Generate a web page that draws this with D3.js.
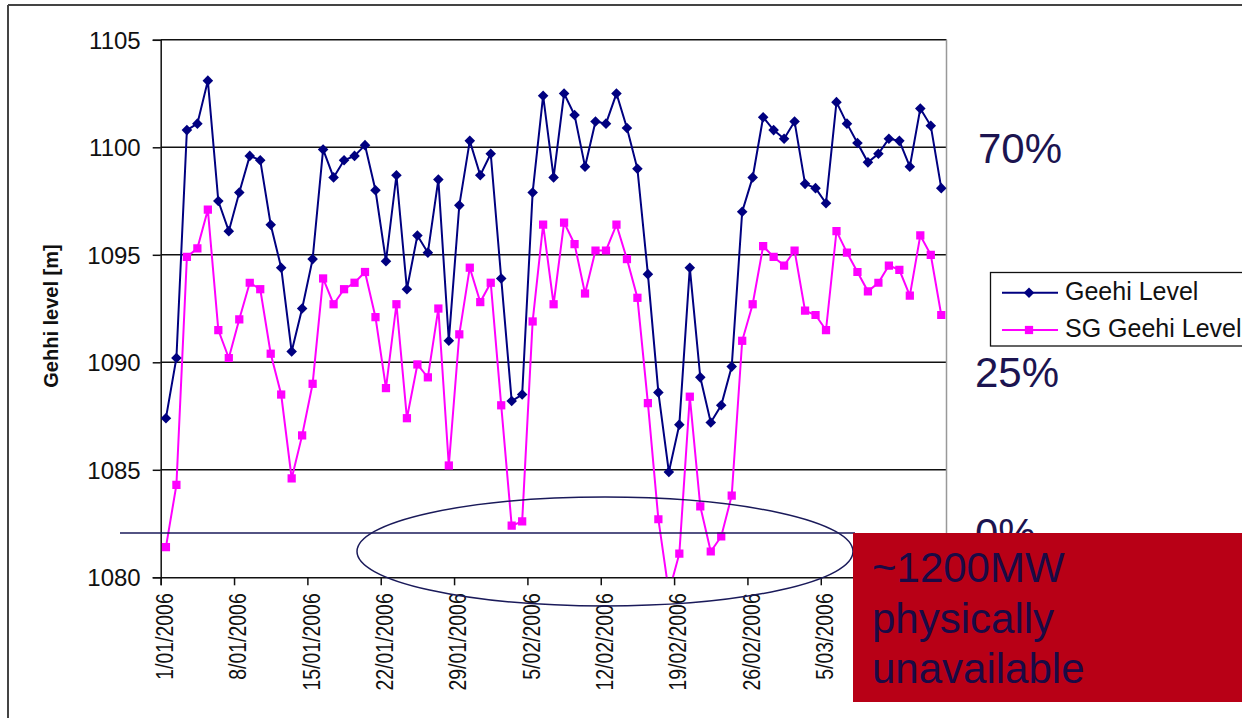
<!DOCTYPE html>
<html>
<head>
<meta charset="utf-8">
<script src="https://cdn.jsdelivr.net/npm/d3@7"></script>
<style>
  body { margin: 0; background: #fff; }
  svg { display: block; font-family: "Liberation Sans", Arial, sans-serif; }
</style>
</head>
<body>
<svg id="chart" width="1242" height="718"></svg>
<script>
// daily lake levels, 1 Jan - 16 Mar 2006
const startDate = "2006-01-01";
const geehiLevel = [
  1087.4, 1090.2, 1100.8, 1101.1, 1103.1, 1097.5, 1096.1, 1097.9, 1099.6, 1099.4,
  1096.4, 1094.4, 1090.5, 1092.5, 1094.8, 1099.9, 1098.6, 1099.4, 1099.6, 1100.1,
  1098.0, 1094.7, 1098.7, 1093.4, 1095.9, 1095.1, 1098.5, 1091.0, 1097.3, 1100.3,
  1098.7, 1099.7, 1093.9, 1088.2, 1088.5, 1097.9, 1102.4, 1098.6, 1102.5, 1101.5,
  1099.1, 1101.2, 1101.1, 1102.5, 1100.9, 1099.0, 1094.1, 1088.6, 1084.9, 1087.1,
  1094.4, 1089.3, 1087.2, 1088.0, 1089.8, 1097.0, 1098.6, 1101.4, 1100.8, 1100.4,
  1101.2, 1098.3, 1098.1, 1097.4, 1102.1, 1101.1, 1100.2, 1099.3, 1099.7, 1100.4,
  1100.3, 1099.1, 1101.8, 1101.0, 1098.1
];
const sgGeehiLevel = [
  1081.4, 1084.3, 1094.9, 1095.3, 1097.1, 1091.5, 1090.2, 1092.0, 1093.7, 1093.4,
  1090.4, 1088.5, 1084.6, 1086.6, 1089.0, 1093.9, 1092.7, 1093.4, 1093.7, 1094.2,
  1092.1, 1088.8, 1092.7, 1087.4, 1089.9, 1089.3, 1092.5, 1085.2, 1091.3, 1094.4,
  1092.8, 1093.7, 1088.0, 1082.4, 1082.6, 1091.9, 1096.4, 1092.7, 1096.5, 1095.5,
  1093.2, 1095.2, 1095.2, 1096.4, 1094.8, 1093.0, 1088.1, 1082.7, 1079.3, 1081.1,
  1088.4, 1083.3, 1081.2, 1081.9, 1083.8, 1091.0, 1092.7, 1095.4, 1094.9, 1094.5,
  1095.2, 1092.4, 1092.2, 1091.5, 1096.1, 1095.1, 1094.2, 1093.3, 1093.7, 1094.5,
  1094.3, 1093.1, 1095.9, 1095.0, 1092.2
];
const seriesNames = ["Geehi Level", "SG Geehi Level"];
const xTickLabels = ["1/01/2006", "8/01/2006", "15/01/2006", "22/01/2006", "29/01/2006",
  "5/02/2006", "12/02/2006", "19/02/2006", "26/02/2006", "5/03/2006", "12/03/2006"];
const yTicks = [1080, 1085, 1090, 1095, 1100, 1105];
const percentLabels = ["70%", "25%", "0%"];
const noteLines = ["~1200MW", "physically", "unavailable"];

const navy = "#000080", pink = "#ff00ff", textNavy = "#1c1450";

const svg = d3.select("#chart");
const parseDay = d3.timeParse("%Y-%m-%d");
const parseLabel = d3.timeParse("%d/%m/%Y");
const d0 = parseDay(startDate);
const dayOf = i => d3.timeHour.offset(d3.timeDay.offset(d0, i), 12); // centre of category
const dEnd = d3.timeDay.offset(d0, geehiLevel.length);

const x = d3.scaleTime().domain([d0, dEnd]).range([160.7, 946.5]);
const y = d3.scaleLinear().domain([1080, 1105]).range([577.3, 39.8]);

// page frame
svg.append("line").attr("x1", 8).attr("x2", 1242).attr("y1", 5).attr("y2", 5)
  .attr("stroke", "#444").attr("stroke-width", 2);
svg.append("line").attr("x1", 8).attr("x2", 8).attr("y1", 5).attr("y2", 718)
  .attr("stroke", "#444").attr("stroke-width", 2);

// gridlines
svg.append("g").selectAll("line")
  .data(yTicks.filter(v => v > 1080))
  .join("line")
  .attr("x1", x.range()[0]).attr("x2", x.range()[1])
  .attr("y1", d => y(d)).attr("y2", d => y(d))
  .attr("stroke", "#111").attr("stroke-width", 1.4);

// right plot border
svg.append("line").attr("x1", x.range()[1]).attr("x2", x.range()[1])
  .attr("y1", y(1105)).attr("y2", y(1080))
  .attr("stroke", "#999").attr("stroke-width", 1.5);

// y axis
const yAxis = svg.append("g")
  .attr("transform", `translate(${x.range()[0]},0)`)
  .call(d3.axisLeft(y).tickValues(yTicks).tickSize(8).tickPadding(12).tickFormat(d3.format("d")));
yAxis.select(".domain").attr("stroke", "#111").attr("stroke-width", 1.5);
yAxis.selectAll(".tick line").attr("stroke", "#111").attr("stroke-width", 1.5);
yAxis.selectAll("text").attr("font-size", 24).attr("fill", "#111").attr("dy", "0.36em");

// x axis
const xAxis = svg.append("g")
  .attr("transform", `translate(0,${y(1080)})`)
  .call(d3.axisBottom(x).tickValues(xTickLabels.map(parseLabel)).tickSize(8)
    .tickFormat((d, i) => xTickLabels[i]));
xAxis.select(".domain").attr("stroke", "#111").attr("stroke-width", 1.5);
xAxis.selectAll(".tick line").attr("stroke", "#111").attr("stroke-width", 1.5);
xAxis.selectAll("text")
  .attr("font-size", 24).attr("fill", "#111")
  .attr("x", 0).attr("y", 0).attr("dy", "0.36em")
  .attr("text-anchor", "end")
  .attr("transform", "translate(3,16) rotate(-90) scale(0.81,1)");

// axis title
svg.append("text")
  .attr("transform", "translate(58,316) rotate(-90)")
  .attr("text-anchor", "middle")
  .attr("font-size", 20).attr("font-weight", "bold").attr("fill", "#111")
  .text("Gehhi level [m]");

// series
svg.append("clipPath").attr("id", "plotClip")
  .append("rect")
  .attr("x", x.range()[0]).attr("y", y(1105))
  .attr("width", x.range()[1] - x.range()[0]).attr("height", y(1080) - y(1105));

const series = [
  { name: seriesNames[0], values: geehiLevel, color: navy, symbol: d3.symbolSquare, size: 56, rotate: 45 },
  { name: seriesNames[1], values: sgGeehiLevel, color: pink, symbol: d3.symbolSquare, size: 68, rotate: 0 }
];

const line = d3.line().x((d, i) => x(dayOf(i))).y(d => y(d));
const plot = svg.append("g").attr("clip-path", "url(#plotClip)");

series.slice().reverse().forEach(s => {
  plot.append("path")
    .datum(s.values)
    .attr("fill", "none").attr("stroke", s.color).attr("stroke-width", 2)
    .attr("d", line);
  plot.append("g").selectAll("path")
    .data(s.values)
    .join("path")
    .attr("d", d3.symbol(s.symbol, s.size))
    .attr("transform", (d, i) => `translate(${x(dayOf(i))},${y(d)}) rotate(${s.rotate})`)
    .attr("fill", s.color);
});

// annotations: 0% line, ellipse, storage percentages
svg.append("line").attr("x1", 120).attr("x2", 855).attr("y1", 533).attr("y2", 533)
  .attr("stroke", "#1a1a5a").attr("stroke-width", 1.5);
svg.append("ellipse").attr("cx", 605).attr("cy", 551.5).attr("rx", 248).attr("ry", 54.5)
  .attr("fill", "none").attr("stroke", "#1a1a5a").attr("stroke-width", 1.5);

const pctY = [163, 387, 548];
const pctX = [978, 975, 975];
svg.append("g").selectAll("text")
  .data(percentLabels)
  .join("text")
  .attr("x", (d, i) => pctX[i]).attr("y", (d, i) => pctY[i])
  .attr("font-size", 42).attr("fill", textNavy)
  .text(d => d);

// legend
const legend = svg.append("g");
legend.append("rect").attr("x", 990.5).attr("y", 272.5).attr("width", 300).attr("height", 73.5)
  .attr("fill", "#fff").attr("stroke", "#111").attr("stroke-width", 1.3);
series.forEach((s, i) => {
  const ly = 292.7 + i * 37.3;
  legend.append("line").attr("x1", 1002).attr("x2", 1058).attr("y1", ly).attr("y2", ly)
    .attr("stroke", s.color).attr("stroke-width", 2);
  legend.append("path").attr("d", d3.symbol(s.symbol, s.size))
    .attr("transform", `translate(1029,${ly}) rotate(${s.rotate})`).attr("fill", s.color);
  legend.append("text").attr("x", 1065).attr("y", ly + 7)
    .attr("font-size", 25).attr("fill", "#111").text(s.name);
});

// red note box
svg.append("rect").attr("x", 853).attr("y", 533).attr("width", 400).attr("height", 169)
  .attr("fill", "#b80016");
svg.append("g").selectAll("text")
  .data(noteLines)
  .join("text")
  .attr("x", 872).attr("y", (d, i) => 582 + i * 50.5)
  .attr("font-size", 42).attr("fill", "#1a0a45")
  .text(d => d);
</script>
</body>
</html>
